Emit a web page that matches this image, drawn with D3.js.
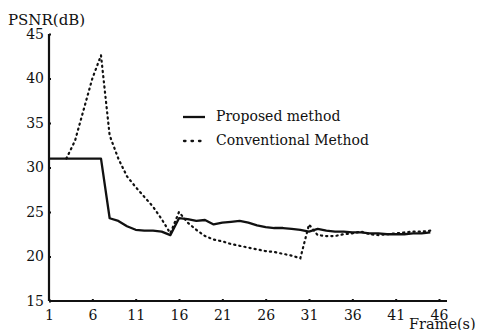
<!DOCTYPE html>
<html><head><meta charset="utf-8">
<script src="https://cdn.jsdelivr.net/npm/d3@7"></script>
<style>body{margin:0;background:#fff}svg{display:block}text{font-family:"DejaVu Serif",serif;fill:#111}</style>
</head><body>
<script>
const frames = d3.range(1, 46);
const proposed = [31,31,31,31,31,31,31,24.3,24.0,23.4,23.0,22.9,22.9,22.8,22.4,24.3,24.2,24.0,24.1,23.6,23.8,23.9,24.0,23.8,23.5,23.3,23.2,23.2,23.1,23.0,22.8,23.1,22.9,22.8,22.8,22.7,22.7,22.6,22.6,22.5,22.5,22.5,22.6,22.6,22.7];
const convFrames = d3.range(3, 46);
const conventional = [31.0,33.0,36.5,40.0,42.6,33.6,31.0,29.0,27.8,26.7,25.6,24.2,22.6,25.0,23.8,23.0,22.3,21.9,21.7,21.4,21.2,21.0,20.8,20.6,20.5,20.3,20.1,19.8,23.6,22.4,22.3,22.3,22.5,22.6,22.8,22.5,22.4,22.5,22.6,22.7,22.8,22.8,22.9];
const xTicks = [1,6,11,16,21,26,31,36,41,46];
const yTicks = [15,20,25,30,35,40,45];
const seriesNames = ["Proposed method","Conventional Method"];

const W = 477, H = 330;
const svg = d3.select("body").append("svg").attr("width", W).attr("height", H);
const x = d3.scaleLinear().domain([1,46]).range([49,439]);
const y = d3.scaleLinear().domain([15,45]).range([301,34]);

// axes
const xa = svg.append("g").attr("transform","translate(0,301)")
  .call(d3.axisBottom(x).tickValues(xTicks).tickSizeInner(-2).tickSizeOuter(0).tickPadding(6));
const ya = svg.append("g").attr("transform","translate(49,0)")
  .call(d3.axisLeft(y).tickValues(yTicks).tickSizeInner(-2).tickSizeOuter(0).tickPadding(5));
[xa, ya].forEach(g=>{
  g.select(".domain").remove();
  g.selectAll(".tick line").attr("stroke","#111").attr("stroke-width",2);
  g.selectAll(".tick text").attr("font-size",14).attr("font-family","DejaVu Serif").attr("fill","#111");
});
xa.selectAll(".tick text").attr("dy","0.9em");
svg.append("line").attr("x1",x(1)).attr("x2",447).attr("y1",301).attr("y2",301).attr("stroke","#111").attr("stroke-width",2.2);
svg.append("line").attr("x1",49).attr("x2",49).attr("y1",y(15)).attr("y2",y(45)).attr("stroke","#111").attr("stroke-width",2.2);

svg.append("text").attr("x",8).attr("y",25).attr("font-size",15).text("PSNR(dB)");
svg.append("text").attr("x",409).attr("y",328.5).attr("font-size",14.5).text("Frame(s)");

const line = d3.line().x(d=>x(d[0])).y(d=>y(d[1]));
svg.append("path").datum(frames.map((f,i)=>[f,proposed[i]]))
  .attr("d",line).attr("fill","none").attr("stroke","#111").attr("stroke-width",2.3).attr("stroke-linejoin","round");
svg.append("path").datum(convFrames.map((f,i)=>[f,conventional[i]]))
  .attr("d",line).attr("fill","none").attr("stroke","#111").attr("stroke-width",2.2)
  .attr("stroke-dasharray","1.2,4").attr("stroke-linecap","round");

// legend
const lg = svg.append("g");
lg.append("line").attr("x1",183).attr("x2",205).attr("y1",117).attr("y2",117).attr("stroke","#111").attr("stroke-width",2.3);
lg.append("text").attr("x",216).attr("y",121).attr("font-size",14).text(seriesNames[0]);
lg.append("line").attr("x1",184).attr("x2",205).attr("y1",141).attr("y2",141).attr("stroke","#111").attr("stroke-width",2.3)
  .attr("stroke-dasharray","1.5,6").attr("stroke-linecap","round");
lg.append("text").attr("x",216).attr("y",145).attr("font-size",14).text(seriesNames[1]);
</script>
</body></html>
